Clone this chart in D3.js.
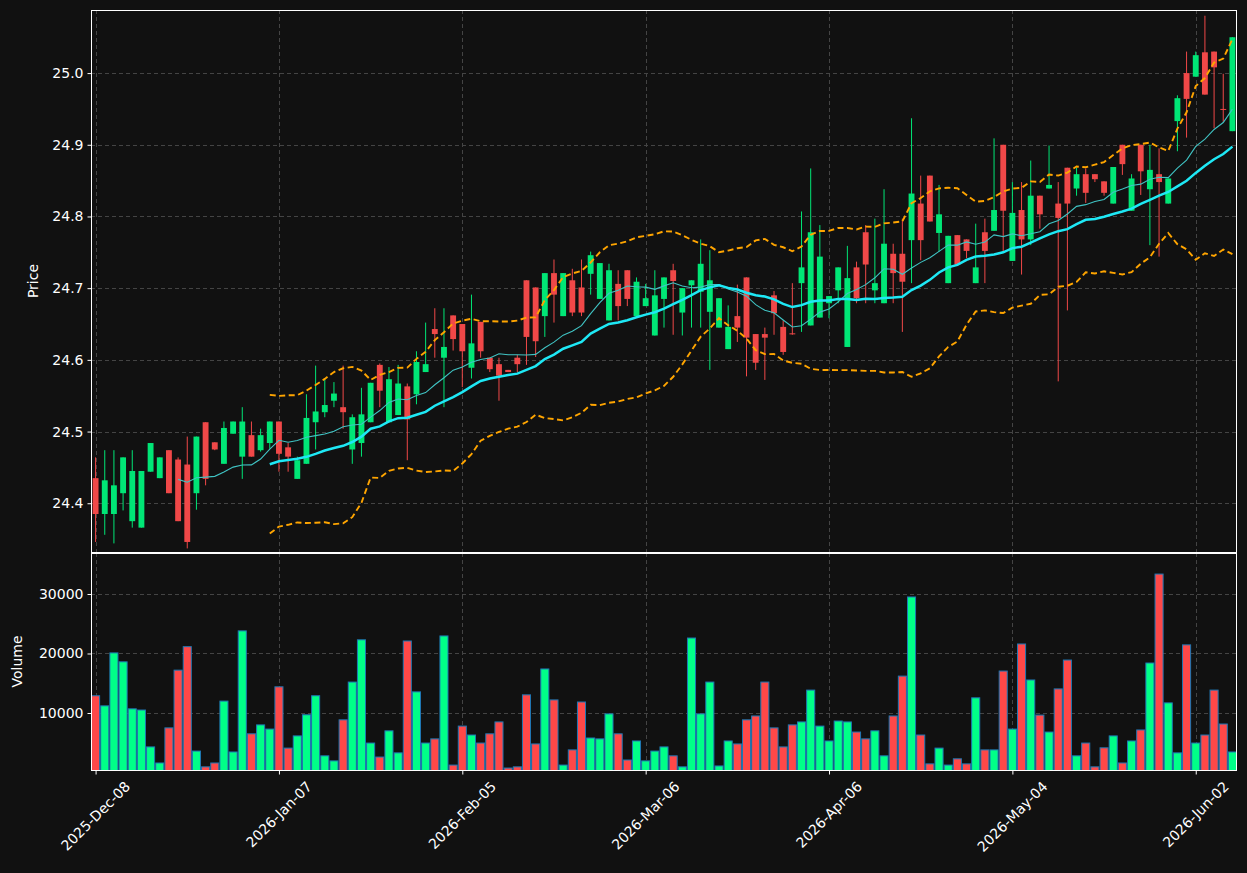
<!DOCTYPE html>
<html>
<head>
<meta charset="utf-8">
<script src="https://cdn.jsdelivr.net/npm/d3@7"></script>
<style>
html, body { margin: 0; padding: 0; background: #111111; }
svg { display: block; font-family: "DejaVu Sans", sans-serif; }
</style>
</head>
<body>
<div id="chart"></div>
<script>
// daily OHLC (one entry per trading day)
const opens = [24.435,24.385,24.385,24.414,24.375,24.366,24.444,24.435,24.474,24.461,
  24.454,24.414,24.513,24.485,24.455,24.497,24.465,24.495,24.474,24.484,
  24.514,24.478,24.434,24.455,24.513,24.527,24.543,24.534,24.475,24.484,
  24.513,24.593,24.513,24.523,24.563,24.552,24.583,24.643,24.603,24.662,
  24.650,24.589,24.653,24.603,24.594,24.586,24.603,24.711,24.701,24.661,
  24.721,24.661,24.711,24.701,24.720,24.685,24.655,24.706,24.725,24.661,
  24.675,24.634,24.685,24.725,24.666,24.704,24.695,24.667,24.645,24.615,
  24.661,24.715,24.636,24.636,24.690,24.646,24.637,24.707,24.648,24.659,
  24.679,24.697,24.618,24.729,24.778,24.697,24.679,24.748,24.748,24.767,
  24.818,24.857,24.777,24.707,24.774,24.768,24.707,24.778,24.780,24.900,
  24.738,24.809,24.768,24.829,24.839,24.818,24.868,24.839,24.859,24.859,
  24.849,24.818,24.900,24.808,24.900,24.838,24.859,24.818,24.933,25.000,
  24.995,25.029,25.030,24.950,24.919];
const highs = [24.464,24.474,24.474,24.464,24.474,24.445,24.484,24.464,24.474,24.464,
  24.493,24.493,24.513,24.485,24.514,24.514,24.534,24.514,24.504,24.514,
  24.514,24.484,24.465,24.552,24.592,24.573,24.569,24.592,24.524,24.561,
  24.568,24.595,24.590,24.593,24.567,24.612,24.652,24.672,24.672,24.662,
  24.650,24.691,24.653,24.603,24.603,24.586,24.607,24.711,24.701,24.721,
  24.740,24.721,24.727,24.740,24.751,24.735,24.734,24.725,24.725,24.715,
  24.706,24.725,24.715,24.734,24.700,24.711,24.768,24.753,24.686,24.676,
  24.705,24.715,24.636,24.645,24.696,24.655,24.707,24.807,24.867,24.788,
  24.689,24.729,24.759,24.737,24.788,24.797,24.838,24.762,24.797,24.937,
  24.857,24.857,24.844,24.773,24.774,24.768,24.790,24.797,24.909,24.900,
  24.848,24.848,24.878,24.829,24.899,24.848,24.868,24.868,24.867,24.859,
  24.849,24.869,24.900,24.859,24.900,24.900,24.895,24.853,24.969,25.030,
  25.030,25.080,25.030,24.999,25.050];
const lows = [24.346,24.356,24.344,24.390,24.366,24.366,24.444,24.435,24.414,24.375,
  24.337,24.391,24.425,24.474,24.455,24.497,24.434,24.465,24.472,24.476,
  24.444,24.444,24.434,24.455,24.475,24.520,24.534,24.504,24.455,24.465,
  24.513,24.534,24.513,24.523,24.460,24.538,24.583,24.603,24.534,24.613,
  24.562,24.574,24.603,24.583,24.543,24.583,24.583,24.593,24.604,24.632,
  24.652,24.661,24.661,24.661,24.691,24.685,24.655,24.655,24.675,24.661,
  24.675,24.634,24.645,24.635,24.634,24.645,24.645,24.586,24.645,24.615,
  24.625,24.577,24.586,24.572,24.635,24.607,24.635,24.639,24.648,24.659,
  24.658,24.679,24.618,24.679,24.679,24.679,24.679,24.679,24.639,24.707,
  24.739,24.793,24.751,24.707,24.733,24.742,24.707,24.707,24.780,24.751,
  24.738,24.719,24.760,24.783,24.839,24.570,24.669,24.829,24.819,24.848,
  24.829,24.818,24.858,24.808,24.830,24.760,24.744,24.818,24.891,24.910,
  24.995,24.970,24.923,24.932,24.919];
const closes = [24.385,24.432,24.425,24.464,24.445,24.445,24.484,24.464,24.414,24.375,
  24.346,24.493,24.434,24.475,24.505,24.514,24.514,24.465,24.495,24.514,
  24.469,24.465,24.460,24.519,24.528,24.537,24.553,24.527,24.520,24.524,
  24.568,24.557,24.573,24.567,24.517,24.597,24.594,24.636,24.618,24.629,
  24.612,24.623,24.612,24.587,24.578,24.583,24.594,24.632,24.626,24.721,
  24.691,24.721,24.666,24.666,24.746,24.735,24.725,24.675,24.685,24.709,
  24.686,24.690,24.715,24.710,24.700,24.711,24.734,24.711,24.686,24.646,
  24.645,24.631,24.596,24.631,24.665,24.611,24.636,24.729,24.778,24.744,
  24.689,24.729,24.714,24.686,24.733,24.707,24.762,24.721,24.709,24.832,
  24.767,24.793,24.803,24.773,24.733,24.752,24.729,24.752,24.809,24.808,
  24.805,24.768,24.829,24.803,24.844,24.798,24.818,24.859,24.833,24.852,
  24.833,24.869,24.873,24.853,24.863,24.865,24.848,24.853,24.965,24.964,
  25.025,24.970,25.008,24.949,25.050];
const volumes = [12900,11200,20100,18600,10700,10500,4300,1600,7500,17200,
  21150,3600,950,1600,12000,3450,23800,6500,8000,7300,
  14400,4100,6150,9700,12900,2800,1950,8850,15200,22300,
  4950,2600,7000,3300,22100,13550,4950,5650,22950,1250,
  7800,6300,4950,6500,8500,750,950,13050,4800,17400,
  12200,1250,3800,11850,5800,5650,9850,6500,2100,5300,
  1950,3600,4300,2800,950,22600,9850,15200,1100,5300,
  4800,8850,9500,15200,7500,4300,8000,8500,13850,7800,
  5300,8650,8500,6800,5650,7000,2800,9500,16200,29500,
  6300,1450,4100,1250,2300,1450,12550,3800,3800,17050,
  7300,21600,15550,9650,6800,14050,18900,2800,4950,950,
  4150,6150,1600,5300,7150,18400,33350,11700,3300,21450,
  4950,6300,13850,8150,3450];

// x axis: trading-day index of each tick and its date label
const tickIndex = [0, 20, 40, 60, 80, 100, 120];
const tickLabels = ["2025-Dec-08", "2026-Jan-07", "2026-Feb-05", "2026-Mar-06",
  "2026-Apr-06", "2026-May-04", "2026-Jun-02"];
const priceTicks = [24.4, 24.5, 24.6, 24.7, 24.8, 24.9, 25.0];
const volumeTicks = [10000, 20000, 30000];

const W = 1247, H = 873;
const left = 91, right = 1237;
const priceTop = 10, priceBottom = 552;
const volTop = 553, volBottom = 770;

const upColor = "#00e676", downColor = "#f04848";
const volUp = "#00ff88", volDown = "#ff4848";

const svg = d3.select("#chart").append("svg")
    .attr("width", W)
    .attr("height", H);

svg.append("rect").attr("width", W).attr("height", H).attr("fill", "#111111");

const n = closes.length;
const x = d3.scaleLinear().domain([-0.5, n - 0.5]).range([left, right]);
const step = x(1) - x(0);
const yP = d3.scaleLinear().domain([24.332, 25.088]).range([priceBottom, priceTop]);
const yV = d3.scaleLinear().domain([420, 36890]).range([volBottom, volTop]);

// clip paths
const defs = svg.append("defs");
defs.append("clipPath").attr("id", "clipP").append("rect")
    .attr("x", left).attr("y", priceTop).attr("width", right - left).attr("height", priceBottom - priceTop);
defs.append("clipPath").attr("id", "clipV").append("rect")
    .attr("x", left).attr("y", volTop).attr("width", right - left).attr("height", volBottom - volTop);

// grid
const grid = svg.append("g")
    .attr("stroke", "#444")
    .attr("stroke-width", 1)
    .attr("stroke-dasharray", "4,3");
grid.selectAll("line.hp").data(priceTicks).enter().append("line")
    .attr("x1", left).attr("x2", right)
    .attr("y1", d => Math.round(yP(d)) + 0.5).attr("y2", d => Math.round(yP(d)) + 0.5);
grid.selectAll("line.hv").data(volumeTicks).enter().append("line")
    .attr("x1", left).attr("x2", right)
    .attr("y1", d => Math.round(yV(d)) + 0.5).attr("y2", d => Math.round(yV(d)) + 0.5);
grid.selectAll("line.vp").data(tickIndex).enter().append("line")
    .attr("x1", d => Math.round(x(d)) + 0.5).attr("x2", d => Math.round(x(d)) + 0.5)
    .attr("y1", priceTop).attr("y2", priceBottom);
grid.selectAll("line.vv").data(tickIndex).enter().append("line")
    .attr("x1", d => Math.round(x(d)) + 0.5).attr("x2", d => Math.round(x(d)) + 0.5)
    .attr("y1", volTop).attr("y2", volBottom);

// candles
const candles = d3.range(n).map(i => ({
    i, o: opens[i], h: highs[i], l: lows[i], c: closes[i], v: volumes[i]
}));
const candleG = svg.append("g").attr("clip-path", "url(#clipP)");
const bodyW = step * 0.64;

candleG.selectAll("line.wick").data(candles).enter().append("line")
    .attr("x1", d => x(d.i)).attr("x2", d => x(d.i))
    .attr("y1", d => yP(d.h)).attr("y2", d => yP(d.l))
    .attr("stroke", d => d.c >= d.o ? upColor : downColor)
    .attr("stroke-width", 1);

candleG.selectAll("rect.body").data(candles).enter().append("rect")
    .attr("x", d => x(d.i) - bodyW / 2)
    .attr("width", bodyW)
    .attr("y", d => yP(Math.max(d.o, d.c)))
    .attr("height", d => Math.max(1, Math.abs(yP(d.o) - yP(d.c))))
    .attr("fill", d => d.c >= d.o ? upColor : downColor);

// moving averages and bollinger bands from the closes
function rollingMean(arr, w) {
    return arr.map((_, i) => i < w - 1 ? null : d3.mean(arr.slice(i - w + 1, i + 1)));
}
function rollingStd(arr, w) {
    return arr.map((_, i) => i < w - 1 ? null : d3.deviation(arr.slice(i - w + 1, i + 1)));
}
const sma10 = rollingMean(closes, 10);
const sma20 = rollingMean(closes, 20);
const sd20 = rollingStd(closes, 20);
const upper = sma20.map((m, i) => m == null ? null : m + 2 * sd20[i]);
const lower = sma20.map((m, i) => m == null ? null : m - 2 * sd20[i]);

const line = d3.line()
    .defined(d => d != null)
    .x((d, i) => x(i))
    .y(d => yP(d));

const lineG = svg.append("g").attr("clip-path", "url(#clipP)").attr("fill", "none");
lineG.append("path").attr("d", line(upper))
    .attr("stroke", "#ffa500").attr("stroke-width", 1.9).attr("stroke-dasharray", "6,3.5");
lineG.append("path").attr("d", line(lower))
    .attr("stroke", "#ffa500").attr("stroke-width", 1.9).attr("stroke-dasharray", "6,3.5");
lineG.append("path").attr("d", line(sma10))
    .attr("stroke", "#40c4c4").attr("stroke-width", 1.1);
lineG.append("path").attr("d", line(sma20))
    .attr("stroke", "#1ee8f5").attr("stroke-width", 2.5);

// volume bars
const volG = svg.append("g").attr("clip-path", "url(#clipV)");
const volW = step * 0.88;
volG.selectAll("rect").data(candles).enter().append("rect")
    .attr("x", d => x(d.i) - volW / 2)
    .attr("width", volW)
    .attr("y", d => yV(d.v))
    .attr("height", d => volBottom + 2 - yV(d.v))
    .attr("fill", d => d.c >= d.o ? volUp : volDown)
    .attr("stroke", "#1f77b4")
    .attr("stroke-width", 1);

// panel frames
svg.append("rect")
    .attr("x", left + 0.5).attr("y", priceTop + 0.5)
    .attr("width", right - left - 1).attr("height", priceBottom - priceTop)
    .attr("fill", "none").attr("stroke", "#ffffff").attr("stroke-width", 1);
svg.append("rect")
    .attr("x", left + 0.5).attr("y", volTop + 0.5)
    .attr("width", right - left - 1).attr("height", volBottom - volTop)
    .attr("fill", "none").attr("stroke", "#ffffff").attr("stroke-width", 1);

// axes
const fontSize = 14;
const yAxisP = svg.append("g")
    .attr("transform", `translate(${left},0)`)
    .call(d3.axisLeft(yP).tickValues(priceTicks).tickFormat(d3.format(".1f")).tickSize(3.5).tickPadding(4));
const yAxisV = svg.append("g")
    .attr("transform", `translate(${left},0)`)
    .call(d3.axisLeft(yV).tickValues(volumeTicks).tickFormat(d3.format("d")).tickSize(3.5).tickPadding(4));
const xAxis = svg.append("g")
    .attr("transform", `translate(0,${volBottom + 1})`)
    .call(d3.axisBottom(x).tickValues(tickIndex).tickFormat(() => "").tickSize(3.5));

[yAxisP, yAxisV, xAxis].forEach(g => {
    g.select(".domain").remove();
    g.selectAll(".tick line").attr("stroke", "#ffffff");
    g.selectAll("text").attr("fill", "#ffffff")
        .style("font-size", fontSize + "px")
        .style("font-family", "'DejaVu Sans', sans-serif");
});

// rotated date labels, bbox centred under each tick
const labelG = svg.append("g");
tickIndex.forEach((t, k) => {
    const txt = labelG.append("text")
        .attr("fill", "#ffffff")
        .attr("text-anchor", "middle")
        .attr("dy", "0.35em")
        .style("font-size", fontSize + "px")
        .text(tickLabels[k]);
    const len = txt.node().getComputedTextLength();
    const bh = (len + fontSize) * Math.SQRT1_2;
    txt.attr("transform", `translate(${x(t)},${volBottom + 9 + bh / 2}) rotate(-45)`);
});

// axis titles
svg.append("text")
    .attr("transform", `translate(38,${(priceTop + priceBottom) / 2}) rotate(-90)`)
    .attr("text-anchor", "middle")
    .attr("fill", "#ffffff")
    .style("font-size", fontSize + "px")
    .text("Price");
svg.append("text")
    .attr("transform", `translate(22,${(volTop + volBottom) / 2}) rotate(-90)`)
    .attr("text-anchor", "middle")
    .attr("fill", "#ffffff")
    .style("font-size", fontSize + "px")
    .text("Volume");
</script>
</body>
</html>
